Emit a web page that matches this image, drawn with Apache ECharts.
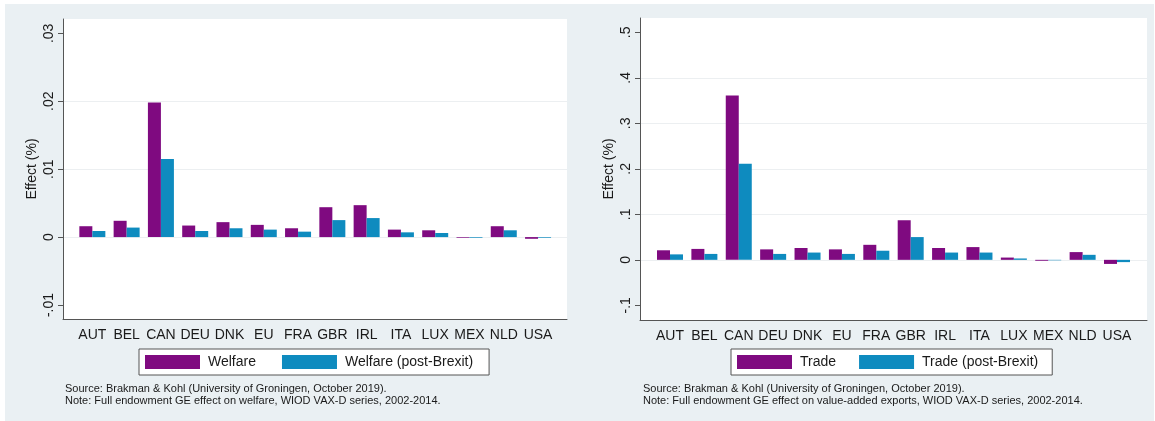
<!DOCTYPE html>
<html>
<head>
<meta charset="UTF-8"/>
<title>Welfare and trade effects</title>
<script src="https://cdn.jsdelivr.net/npm/echarts@6.0.0/dist/echarts.min.js"></script>
<style>
  html, body { margin: 0; padding: 0; background: #fff; }
  #main { width: 1155px; height: 421px; }
</style>
</head>
<body>
<div id="main"></div>
<script type="text/javascript">
// data
var countries = ['AUT', 'BEL', 'CAN', 'DEU', 'DNK', 'EU', 'FRA', 'GBR', 'IRL', 'ITA', 'LUX', 'MEX', 'NLD', 'USA'];
var welfare = [0.0016, 0.0024, 0.0198, 0.0017, 0.0022, 0.0018, 0.0013, 0.0044, 0.0047, 0.0011, 0.0010, -0.0001, 0.0016, -0.00025];
var welfareBrexit = [0.0009, 0.0014, 0.0115, 0.0009, 0.0013, 0.0011, 0.0008, 0.0025, 0.0028, 0.0007, 0.0006, -0.0001, 0.0010, -0.0001];
var trade = [0.021, 0.024, 0.361, 0.023, 0.026, 0.023, 0.033, 0.087, 0.026, 0.028, 0.005, -0.002, 0.017, -0.009];
var tradeBrexit = [0.012, 0.013, 0.211, 0.013, 0.016, 0.013, 0.020, 0.050, 0.016, 0.016, 0.003, -0.001, 0.011, -0.005];
var welfareTicks = [-0.01, 0, 0.01, 0.02, 0.03];
var tradeTicks = [-0.1, 0, 0.1, 0.2, 0.3, 0.4, 0.5];
// gridlines only at the inner ticks
var welfareGrid = [0, 0.01, 0.02];
var tradeGrid = [0, 0.1, 0.2, 0.3, 0.4];

var purple = '#7f0a80';
var blue = '#0e8bbf';
var axisGrey = '#555';
var font = 'Liberation Sans, Arial, sans-serif';

// stata style labels: .03, -.01, 0
function stataLabel(v) {
    var s = String(+v.toFixed(3));
    return s.replace('0.', '.');
}

function outerX(gi) {
    return {
        type: 'value', gridIndex: gi, min: 0, max: 1,
        axisLine: { show: true, onZero: false, lineStyle: { color: axisGrey, width: 1 } },
        axisTick: { show: false }, axisLabel: { show: false }, splitLine: { show: false }
    };
}
function innerX(gi) {
    return {
        type: 'category', gridIndex: gi, data: countries,
        axisLine: { show: false, onZero: false }, axisTick: { show: false },
        axisLabel: { interval: 0, margin: 9, fontSize: 14, color: '#1a1a1a', fontFamily: font },
        splitLine: { show: false }
    };
}
function outerY(gi, min, max, ticks) {
    return {
        type: 'value', gridIndex: gi, min: min, max: max,
        name: 'Effect (%)', nameLocation: 'middle', nameGap: 24,
        nameTextStyle: { fontSize: 14, color: '#1a1a1a', fontFamily: font },
        axisLine: { show: true, lineStyle: { color: axisGrey, width: 1 } },
        axisTick: { show: true, length: 5, customValues: ticks, lineStyle: { color: axisGrey } },
        axisLabel: {
            rotate: 90, margin: 7, fontSize: 14, color: '#1a1a1a', fontFamily: font,
            customValues: ticks, formatter: stataLabel
        },
        splitLine: { show: false }
    };
}
function gridY(gi, min, max, lines) {
    return {
        type: 'value', gridIndex: gi, min: min, max: max,
        axisLine: { show: false }, axisLabel: { show: false },
        axisTick: { show: false, customValues: lines },
        splitLine: { show: true, lineStyle: { color: '#eceff1', width: 1 } }
    };
}
function innerY(gi, min, max) {
    return {
        type: 'value', gridIndex: gi, min: min, max: max, show: false,
        splitLine: { show: false }
    };
}
function bar(name, data, color, axisIdx) {
    return {
        name: name, type: 'bar', data: data,
        xAxisIndex: axisIdx, yAxisIndex: axisIdx,
        barWidth: 13, barGap: '0%',
        itemStyle: { color: color },
        emphasis: { disabled: true }
    };
}
function legendBox(names, left, gap, pad) {
    return {
        data: names, left: left, top: 349, orient: 'horizontal',
        itemWidth: 55, itemHeight: 14, itemGap: gap,
        padding: pad, backgroundColor: '#fff',
        borderColor: axisGrey, borderWidth: 1, borderRadius: 0,
        icon: 'rect',
        textStyle: { fontSize: 14, color: '#1a1a1a', fontFamily: font, padding: [0, 0, 0, 3] }
    };
}

var myChart = echarts.init(document.getElementById('main'), null, { renderer: 'canvas' });

var option = {
    animation: false,
    backgroundColor: '#eaf0f3',
    grid: [
        { left: 63, top: 19, width: 504, height: 300, show: true, backgroundColor: '#fff', borderWidth: 0 },
        { left: 75.2, top: 19, width: 480, height: 300 },
        { left: 640, top: 18, width: 507, height: 302, show: true, backgroundColor: '#fff', borderWidth: 0 },
        { left: 652.8, top: 18, width: 481.4, height: 302 }
    ],
    xAxis: [outerX(0), innerX(1), outerX(2), innerX(3)],
    yAxis: [
        outerY(0, -0.01206, 0.03211, welfareTicks),
        innerY(1, -0.01206, 0.03211),
        outerY(2, -0.1322, 0.5314, tradeTicks),
        innerY(3, -0.1322, 0.5314),
        gridY(0, -0.01206, 0.03211, welfareGrid),
        gridY(2, -0.1322, 0.5314, tradeGrid)
    ],
    legend: [
        legendBox(['Welfare', 'Welfare (post-Brexit)'], 139, 26, [6, 16, 6, 6]),
        legendBox(['Trade', 'Trade (post-Brexit)'], 731, 23, [6, 14, 6, 6])
    ],
    series: [
        bar('Welfare', welfare, purple, 1),
        bar('Welfare (post-Brexit)', welfareBrexit, blue, 1),
        bar('Trade', trade, purple, 3),
        bar('Trade (post-Brexit)', tradeBrexit, blue, 3)
    ],
    graphic: [
        { type: 'rect', shape: { x: 0, y: 0, width: 1155, height: 4 }, style: { fill: '#fff' }, silent: true },
        { type: 'rect', shape: { x: 0, y: 0, width: 5, height: 421 }, style: { fill: '#fff' }, silent: true },
        { type: 'rect', shape: { x: 1154, y: 0, width: 1, height: 421 }, style: { fill: '#fff' }, silent: true },
        {
            type: 'text', left: 65, top: 383,
            style: {
                text: 'Source: Brakman & Kohl (University of Groningen, October 2019).\nNote: Full endowment GE effect on welfare, WIOD VAX-D series, 2002-2014.',
                fontSize: 11, lineHeight: 12, fill: '#1a1a1a', fontFamily: font
            }
        },
        {
            type: 'text', left: 643, top: 383,
            style: {
                text: 'Source: Brakman & Kohl (University of Groningen, October 2019).\nNote: Full endowment GE effect on value-added exports, WIOD VAX-D series, 2002-2014.',
                fontSize: 11, lineHeight: 12, fill: '#1a1a1a', fontFamily: font
            }
        }
    ]
};

myChart.setOption(option);
</script>
</body>
</html>
